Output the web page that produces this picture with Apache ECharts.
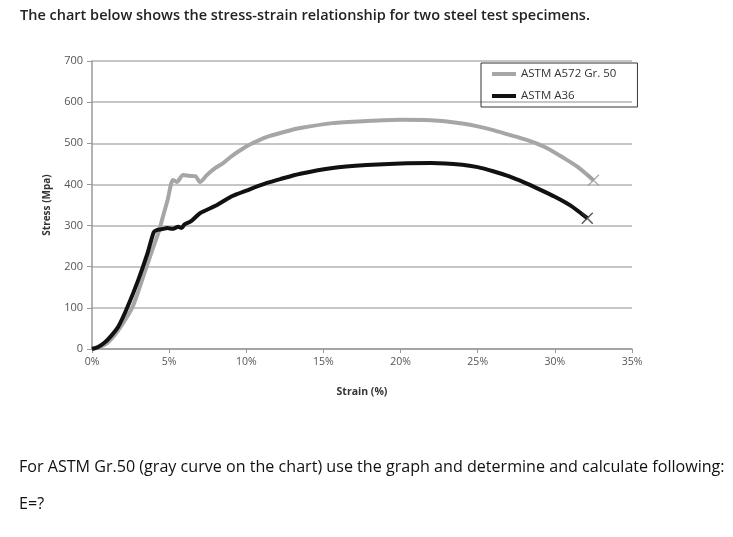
<!DOCTYPE html>
<html>
<head>
<meta charset="utf-8">
<script src="https://cdn.jsdelivr.net/npm/echarts@6/dist/echarts.min.js"></script>
<style>
html,body{margin:0;padding:0;background:#fff;}
#c{width:733px;height:537px;}
</style>
</head>
<body>
<div id="c"></div>
<script>
// ---- data ----
const seriesNames = ['ASTM A572 Gr. 50', 'ASTM A36'];
const xTicks = [0, 5, 10, 15, 20, 25, 30, 35]; // strain %
const yTicks = [0, 100, 200, 300, 400, 500, 600, 700]; // MPa

const grayStrain = [0, 0.5, 1.0, 1.5, 2.0, 2.6, 3.0, 3.4, 3.9, 4.3, 4.6, 4.9, 5.25, 5.5, 5.9, 6.3, 6.7, 7.0, 7.45, 8.0, 8.5, 9.1, 10.0, 10.4, 11.3, 12.5, 13.5, 15.6, 17.8, 20.0, 22.0, 23.0, 24.0, 25.0, 26.0, 27.0, 28.0, 28.8, 29.5, 30.5, 31.5, 32.5];
const grayStress = [0, 5, 15, 35, 62, 100, 140, 185, 240, 282, 322, 362, 411, 406, 423, 421, 420, 406, 423, 440, 452, 470, 492, 500, 515, 528, 537, 549, 554, 557, 556, 553, 548, 541, 532, 521, 510, 500, 488, 466, 442, 410];

const blackStrain = [0, 0.4, 0.8, 1.2, 1.7, 2.3, 3.0, 3.6, 4.0, 4.2, 4.5, 4.9, 5.2, 5.6, 5.8, 6.0, 6.4, 7.0, 8.0, 9.1, 10.0, 11.3, 12.2, 13.5, 15.6, 17.8, 20.0, 22.0, 24.0, 25.0, 26.0, 27.0, 28.0, 29.0, 30.0, 31.0, 32.1];
const blackStress = [0, 5, 15, 30, 54, 102, 168, 233, 284, 289, 291, 294, 292, 297, 294, 303, 310, 330, 348, 372, 385, 403, 413, 426, 440, 447, 451, 452, 448, 442, 432, 420, 405, 388, 370, 349, 318];

const titleText = 'The chart below shows the stress-strain relationship for two steel test specimens.';
const questionText = 'For ASTM Gr.50 (gray curve on the chart) use the graph and determine and calculate following:';
const answerText = 'E=?';

// ---- build ----
const crossPath = 'path://M0 0L10 10M10 0L0 10';
const pairs = (xs, ys) => xs.map((x, i) => [x, ys[i]]);
const lastPoint = (xs, ys) => [[xs[xs.length - 1], ys[ys.length - 1]]];

const chart = echarts.init(document.getElementById('c'), null, { renderer: 'canvas' });
const labelFont = 'Open Sans';
chart.setOption({
  animation: false,
  backgroundColor: '#fff',
  title: [
    { text: titleText, left: 15, top: 3,
      textStyle: { fontFamily: labelFont, fontSize: 14.5, fontWeight: 600, color: '#222' } },
    { text: questionText, left: 14, top: 454,
      textStyle: { fontFamily: labelFont, fontSize: 16.1, fontWeight: 'normal', color: '#111' } },
    { text: answerText, left: 14, top: 491,
      textStyle: { fontFamily: labelFont, fontSize: 16.1, fontWeight: 'normal', color: '#111' } }
  ],
  legend: {
    orient: 'vertical',
    left: 481, top: 63,
    padding: [5, 21, 5, 11],
    itemGap: 10,
    itemWidth: 24, itemHeight: 4,
    borderColor: '#333', borderWidth: 1,
    textStyle: { fontFamily: labelFont, fontSize: 11.5, color: '#333' },
    data: [
      { name: seriesNames[0], icon: 'rect' },
      { name: seriesNames[1], icon: 'rect' }
    ]
  },
  grid: { left: 92, right: 101, top: 61, bottom: 188 },
  xAxis: {
    type: 'value', min: xTicks[0], max: xTicks[xTicks.length - 1], interval: 5,
    name: 'Strain (%)', nameLocation: 'middle', nameGap: 38,
    nameTextStyle: { fontFamily: labelFont, fontSize: 10.5, fontWeight: 'bold', color: '#333' },
    axisLine: { lineStyle: { color: '#999', width: 1.5 } },
    axisTick: { show: true, length: 4, lineStyle: { color: '#999' } },
    axisLabel: { formatter: '{value}%', fontFamily: labelFont, fontSize: 10.5, color: '#555', margin: 8 },
    splitLine: { show: false }
  },
  yAxis: {
    type: 'value', min: yTicks[0], max: yTicks[yTicks.length - 1], interval: 100,
    name: 'Stress (Mpa)', nameLocation: 'middle', nameGap: 40, nameRotate: 90,
    nameTextStyle: { fontFamily: labelFont, fontSize: 10, fontWeight: 'bold', color: '#333' },
    axisLine: { show: true, lineStyle: { color: '#999', width: 1.5 } },
    axisTick: { show: true, length: 5, lineStyle: { color: '#999' } },
    axisLabel: { fontFamily: labelFont, fontSize: 11, color: '#555', margin: 9 },
    splitLine: { show: true, lineStyle: { color: '#b3b3b3', width: 1.5 } }
  },
  series: [
    {
      name: seriesNames[0], type: 'line', showSymbol: false, symbol: 'none',
      smooth: 0.25,
      lineStyle: { color: '#a6a6a6', width: 4 },
      itemStyle: { color: '#a6a6a6' },
      data: pairs(grayStrain, grayStress),
      z: 2
    },
    {
      name: seriesNames[1], type: 'line', showSymbol: false, symbol: 'none',
      smooth: 0.25,
      lineStyle: { color: '#111', width: 4 },
      itemStyle: { color: '#111' },
      data: pairs(blackStrain, blackStress),
      z: 3
    },
    {
      name: seriesNames[0] + ' end', type: 'scatter', symbol: crossPath, symbolSize: 11,
      itemStyle: { color: 'none', borderColor: '#999', borderWidth: 1.5 },
      data: lastPoint(grayStrain, grayStress), z: 4, silent: true
    },
    {
      name: seriesNames[1] + ' end', type: 'scatter', symbol: crossPath, symbolSize: 11,
      itemStyle: { color: 'none', borderColor: '#333', borderWidth: 1.5 },
      data: lastPoint(blackStrain, blackStress), z: 4, silent: true
    }
  ]
});
</script>
</body>
</html>
